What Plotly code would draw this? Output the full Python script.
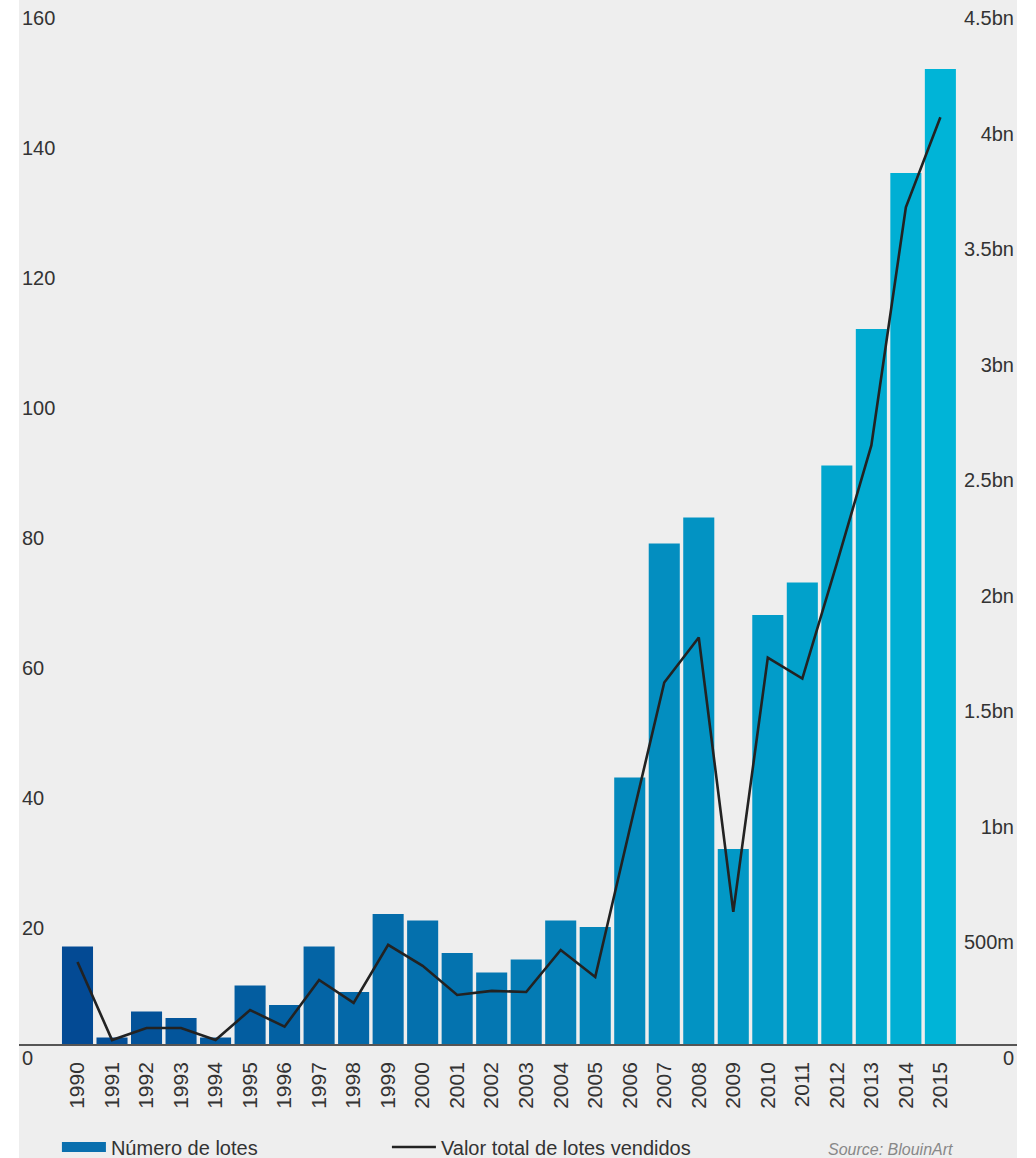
import plotly.graph_objects as go

years = [str(y) for y in range(1990, 2016)]
lotes = [15, 1, 5, 4, 1, 9, 6, 15, 8, 20, 19, 14, 11, 13, 19, 18,
         41, 77, 81, 30, 66, 71, 89, 110, 134, 150]
valor_bn = [0.355, 0.017, 0.069, 0.069, 0.017, 0.147, 0.075, 0.277, 0.178, 0.429,
            0.338, 0.212, 0.23, 0.225, 0.407, 0.29, 0.93, 1.564, 1.759, 0.572,
            1.672, 1.581, 2.08, 2.59, 3.62, 4.01]

left_ticks = [0, 20, 40, 60, 80, 100, 120, 140, 160]
right_ticks = [0, 0.5, 1, 1.5, 2, 2.5, 3, 3.5, 4, 4.5]
right_labels = ["0", "500m", "1bn", "1.5bn", "2bn", "2.5bn", "3bn", "3.5bn", "4bn", "4.5bn"]

FONT = "Liberation Sans, Arial, sans-serif"
BG = "#eeeeee"
TXT = "#333333"

fig = go.Figure()
fig.add_trace(go.Bar(
    x=years, y=lotes, name="Número de lotes",
    marker=dict(color=list(range(len(years))),
                colorscale=[[0, "#034a94"], [0.5, "#0479b3"], [1, "#00b4d7"]],
                line=dict(width=0)),
    yaxis="y", showlegend=False, legendgroup="lotes",
))
# legend entry for the bars (wide swatch like the original)
fig.add_trace(go.Scatter(
    x=[None], y=[None], name="Número de lotes", mode="lines",
    line=dict(color="#0a6fae", width=10), legendgroup="lotes", showlegend=True,
))
fig.add_trace(go.Scatter(
    x=years, y=valor_bn, name="Valor total de lotes vendidos",
    mode="lines", line=dict(color="#222222", width=2.6),
    yaxis="y2",
))

fig.add_shape(type="rect", xref="paper", yref="paper", x0=0, x1=1, y0=-0.12, y1=1.01,
              fillcolor=BG, line=dict(width=0), layer="below")

fig.update_layout(
    width=1036, height=1158,
    margin=dict(l=19, r=19, t=4, b=114, autoexpand=False),
    paper_bgcolor="white", plot_bgcolor=BG,
    font=dict(family=FONT, size=20, color=TXT),
    bargap=0.1,
    xaxis=dict(type="category", range=[-1.695, 27.22], tickangle=-90,
               showgrid=False, zeroline=False, showline=True, linecolor="#555555",
               linewidth=1.5, ticks="", ticklabelstandoff=8,
               tickfont=dict(size=21, color=TXT)),
    yaxis=dict(range=[0, 160], tickvals=left_ticks, showgrid=False, zeroline=False,
               ticks="", ticklabelposition="inside bottom", ticklabeloverflow="allow",
               tickfont=dict(size=20, color=TXT)),
    yaxis2=dict(range=[0, 4.5], overlaying="y", side="right", tickvals=right_ticks,
                ticktext=right_labels, showgrid=False, zeroline=False, ticks="",
                ticklabelposition="inside bottom", ticklabeloverflow="allow",
                tickfont=dict(size=20, color=TXT)),
    legend=dict(orientation="h", x=0.038, y=-0.099, xanchor="left", yanchor="middle",
                bgcolor="rgba(0,0,0,0)", font=dict(size=20, color=TXT),
                itemwidth=44,
                entrywidth=271, entrywidthmode="pixels", traceorder="normal"),
)

fig.add_annotation(text="<i>Source: BlouinArt</i>", xref="paper", yref="paper",
                   x=0.938, y=-0.101, xanchor="right", yanchor="middle",
                   showarrow=False, font=dict(size=16, color="#888888", family=FONT))

fig.write_html("out.html", config={"displayModeBar": False},
               post_script="document.body.style.margin='0';")
